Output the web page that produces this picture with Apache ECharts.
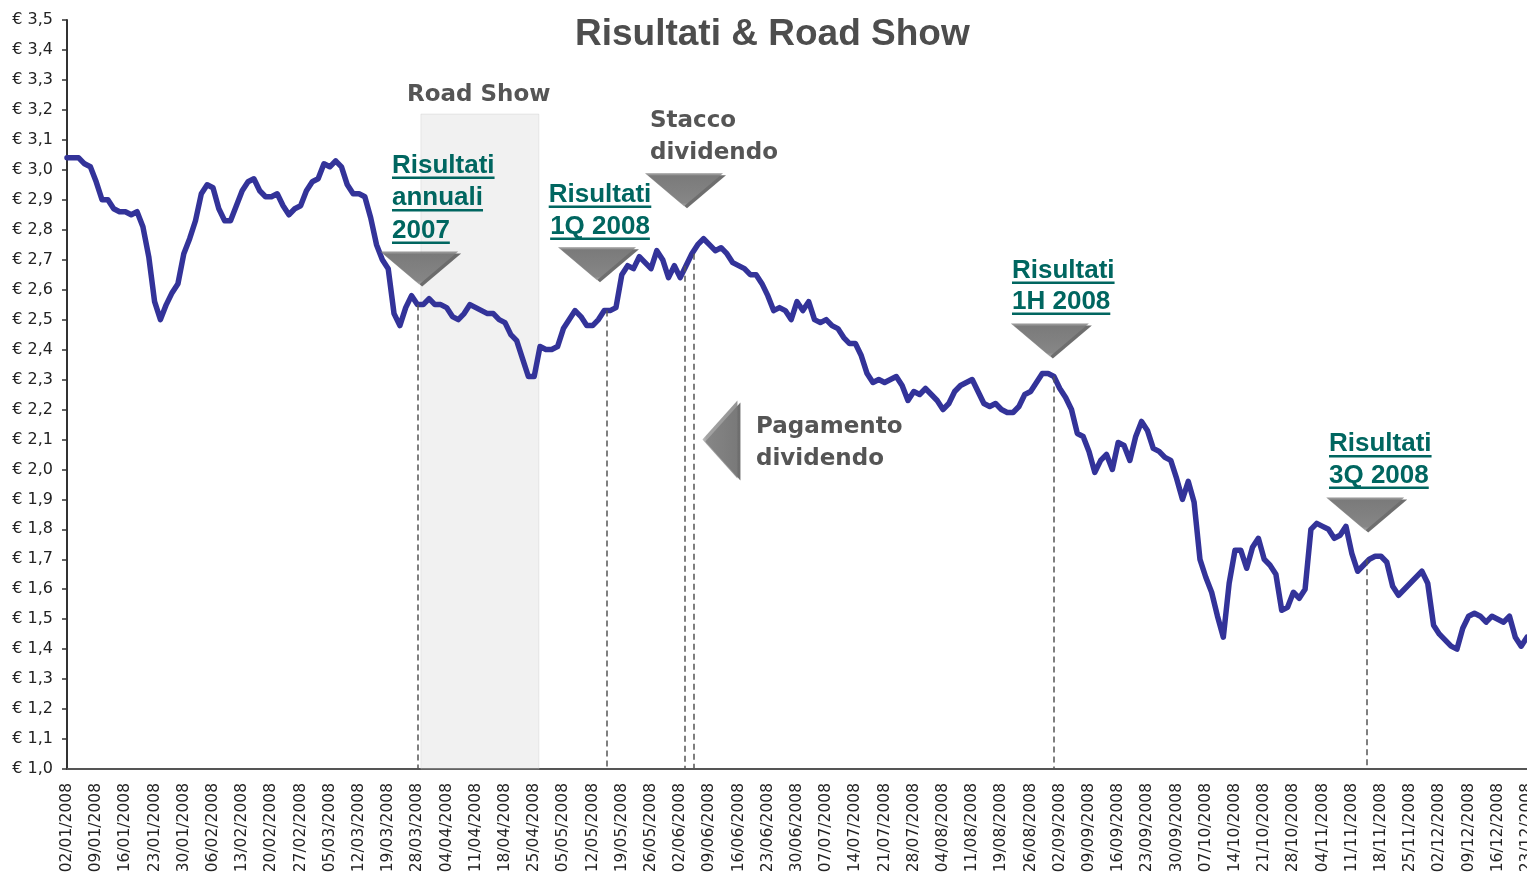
<!DOCTYPE html>
<html>
<head>
<meta charset="utf-8">
<script src="https://cdn.jsdelivr.net/npm/echarts@6/dist/echarts.min.js"></script>
<style>
html,body{margin:0;padding:0;background:#fff;overflow:hidden;}
#c{width:1527px;height:875px;overflow:hidden;}
</style>
</head>
<body>
<div id="c"></div>
<script>
// Weekly tick labels (every 5 trading days)
const tickLabels = [
 '02/01/2008','09/01/2008','16/01/2008','23/01/2008','30/01/2008','06/02/2008','13/02/2008','20/02/2008','27/02/2008','05/03/2008',
 '12/03/2008','19/03/2008','28/03/2008','04/04/2008','11/04/2008','18/04/2008','25/04/2008','05/05/2008','12/05/2008','19/05/2008',
 '26/05/2008','02/06/2008','09/06/2008','16/06/2008','23/06/2008','30/06/2008','07/07/2008','14/07/2008','21/07/2008','28/07/2008',
 '04/08/2008','11/08/2008','19/08/2008','26/08/2008','02/09/2008','09/09/2008','16/09/2008','23/09/2008','30/09/2008','07/10/2008',
 '14/10/2008','21/10/2008','28/10/2008','04/11/2008','11/11/2008','18/11/2008','25/11/2008','02/12/2008','09/12/2008','16/12/2008',
 '23/12/2008'
];

// Daily closing price, one value per trading day (index 0 = 02/01/2008)
const prices = [
 3.04,3.04,3.04,3.02,3.01,2.96,2.90,2.90,2.87,2.86,
 2.86,2.85,2.86,2.81,2.71,2.56,2.50,2.55,2.59,2.62,
 2.72,2.77,2.83,2.92,2.95,2.94,2.87,2.83,2.83,2.88,
 2.93,2.96,2.97,2.93,2.91,2.91,2.92,2.88,2.85,2.87,
 2.88,2.93,2.96,2.97,3.02,3.01,3.03,3.01,2.95,2.92,
 2.92,2.91,2.84,2.75,2.70,2.67,2.52,2.48,2.54,2.58,
 2.55,2.55,2.57,2.55,2.55,2.54,2.51,2.50,2.52,2.55,
 2.54,2.53,2.52,2.52,2.50,2.49,2.45,2.43,2.37,2.31,
 2.31,2.41,2.40,2.40,2.41,2.47,2.50,2.53,2.51,2.48,
 2.48,2.50,2.53,2.53,2.54,2.65,2.68,2.67,2.71,2.69,
 2.67,2.73,2.70,2.64,2.68,2.64,2.68,2.72,2.75,2.77,
 2.75,2.73,2.74,2.72,2.69,2.68,2.67,2.65,2.65,2.62,
 2.58,2.53,2.54,2.53,2.50,2.56,2.53,2.56,2.50,2.49,
 2.50,2.48,2.47,2.44,2.42,2.42,2.38,2.32,2.29,2.30,
 2.29,2.30,2.31,2.28,2.23,2.26,2.25,2.27,2.25,2.23,
 2.20,2.22,2.26,2.28,2.29,2.30,2.26,2.22,2.21,2.22,
 2.20,2.19,2.19,2.21,2.25,2.26,2.29,2.32,2.32,2.31,
 2.27,2.24,2.20,2.12,2.11,2.06,1.99,2.03,2.05,2.00,
 2.09,2.08,2.03,2.11,2.16,2.13,2.07,2.06,2.04,2.03,
 1.97,1.90,1.96,1.89,1.70,1.64,1.59,1.51,1.44,1.62,
 1.73,1.73,1.67,1.74,1.77,1.70,1.68,1.65,1.53,1.54,
 1.59,1.57,1.60,1.80,1.82,1.81,1.80,1.77,1.78,1.81,
 1.72,1.66,1.68,1.70,1.71,1.71,1.69,1.61,1.58,1.60,
 1.62,1.64,1.66,1.62,1.48,1.45,1.43,1.41,1.40,1.47,
 1.51,1.52,1.51,1.49,1.51,1.50,1.49,1.51,1.44,1.41,
 1.44
];

// Event days (trading-day index) marked with dashed lines
const eventDays = [60, 92.5, 105.7, 107.4, 169, 222.5];
// Road show period (trading-day index range)
const roadShow = [60.6, 80.8];

// Marker triangles: [day index, price level]
const downMarkers = [[60.3, 2.672], [90.75, 2.686], [105.65, 2.933], [168.3, 2.432], [222.3, 1.851]];
const leftMarkers = [[111.8, 2.10]];

const chart = echarts.init(document.getElementById('c'), null, {width: 1527, height: 875});

const tealFont = 'bold 26px "Liberation Sans", Arial, sans-serif';
const grayFont = 'bold 23px "DejaVu Sans", sans-serif';
const teal = '#006660';
const gray = '#555555';

const annotations = [
  {lines:['Risultati','annuali','2007'], x:392, base:175, gap:32.5, kind:'teal', align:'left'},
  {lines:['Risultati','1Q 2008'], x:600, base:204, gap:32, kind:'teal', align:'center'},
  {lines:['Risultati','1H 2008'], x:1012, base:280, gap:31, kind:'teal', align:'left'},
  {lines:['Risultati','3Q 2008'], x:1329, base:453.5, gap:31.5, kind:'teal', align:'left'},
  {lines:['Road Show'], x:407, base:103, gap:32, kind:'gray', align:'left'},
  {lines:['Stacco','dividendo'], x:650, base:129, gap:32, kind:'gray', align:'left'},
  {lines:['Pagamento','dividendo'], x:756, base:435, gap:32, kind:'gray', align:'left'}
];

const mctx = document.createElement('canvas').getContext('2d');
const graphics = [];
annotations.forEach(a => {
  const font = a.kind === 'teal' ? tealFont : grayFont;
  const size = a.kind === 'teal' ? 26 : 23;
  const col = a.kind === 'teal' ? teal : gray;
  mctx.font = font;
  a.lines.forEach((t, k) => {
    const base = a.base + k * a.gap;
    graphics.push({
      type: 'text', z: 100,
      style: {text: t, x: a.x, y: base - 0.36 * size, font: font, fill: col,
              textAlign: a.align, textVerticalAlign: 'middle'}
    });
    if (a.kind === 'teal') {
      const w = mctx.measureText(t).width;
      const x0 = a.align === 'center' ? a.x - w / 2 : a.x;
      graphics.push({type: 'rect', z: 100, shape: {x: x0, y: base + 1.5, width: w, height: 2.5}, style: {fill: col}});
    }
  });
});

const triStyle = {
  color: new echarts.graphic.LinearGradient(0, 0, 0, 1, [
    {offset: 0, color: '#b0b0b0'}, {offset: 0.12, color: '#8c8c8c'}, {offset: 1, color: '#7c7c7c'}
  ]),
  shadowColor: '#4a4a4a', shadowOffsetX: 3, shadowOffsetY: 2, shadowBlur: 0
};

const option = {
  animation: false,
  backgroundColor: '#ffffff',
  title: {
    text: 'Risultati & Road Show', left: 570, top: 11,
    textStyle: {fontFamily: '"Liberation Sans", Arial, sans-serif', fontWeight: 'bold', fontSize: 37, color: '#4d4d4d'}
  },
  grid: {left: 67, right: 0, top: 20, bottom: 106, containLabel: false, outerBoundsMode: 'none'},
  xAxis: {
    type: 'value', min: 0, max: 250, interval: 5,
    axisLine: {show: true, onZero: false, lineStyle: {color: '#555', width: 2}},
    axisTick: {show: false},
    splitLine: {show: false},
    axisLabel: {
      rotate: 90, margin: 14, fontFamily: '"DejaVu Sans", sans-serif', fontSize: 15.5, color: '#222',
      showMinLabel: true, showMaxLabel: true, hideOverlap: false,
      formatter: v => tickLabels[Math.round(v / 5)] || ''
    }
  },
  yAxis: {
    type: 'value', min: 1, max: 3.5, interval: 0.1,
    axisLine: {show: true, lineStyle: {color: '#333', width: 2}},
    axisTick: {show: true, length: 5, lineStyle: {color: '#333', width: 1.5}},
    splitLine: {show: false},
    axisLabel: {
      margin: 14, fontFamily: '"DejaVu Sans", sans-serif', fontSize: 16, color: '#222',
      formatter: v => '€ ' + v.toFixed(1).replace('.', ',')
    }
  },
  graphic: graphics,
  series: [
    {
      name: 'eventi', type: 'line', z: 1, data: prices.map((v, i) => [i, v]),
      symbol: 'none', lineStyle: {opacity: 0}, silent: true,
      markLine: {
        symbol: 'none', silent: true, animation: false,
        label: {show: false},
        lineStyle: {type: [6, 4], color: '#555', width: 1.5},
        data: eventDays.map(d => [{coord: [d, prices[Math.round(d)]]}, {coord: [d, 1]}])
      }
    },
    {
      name: 'prezzo', type: 'line', z: 2, data: prices.map((v, i) => [i, v]),
      symbol: 'none', smooth: false,
      lineStyle: {color: '#333399', width: 5.5, join: 'round', cap: 'round'}
    },
    {
      name: 'roadshow', type: 'line', z: 3, data: [], silent: true,
      markArea: {
        silent: true,
        itemStyle: {color: 'rgba(200,200,200,0.25)', borderColor: 'rgba(190,190,190,0.3)', borderWidth: 1},
        data: [[{coord: [roadShow[0], 1.0]}, {coord: [roadShow[1], 3.186]}]]
      }
    },
    {
      name: 'marker', type: 'scatter', z: 4, silent: true,
      symbol: 'triangle',
      data: downMarkers.map(p => ({value: p, symbolSize: [78, 33], symbolRotate: 180}))
        .concat(leftMarkers.map(p => ({value: p, symbolSize: [78, 35], symbolRotate: 90}))),
      itemStyle: triStyle
    }
  ]
};
chart.setOption(option);
</script>
</body>
</html>
